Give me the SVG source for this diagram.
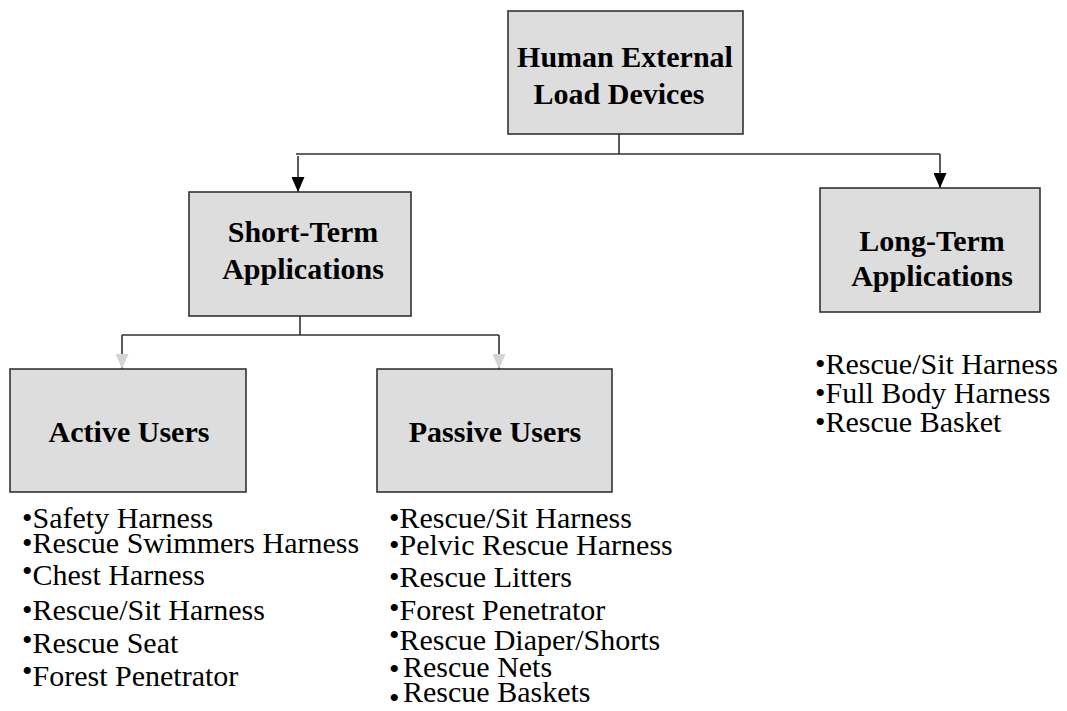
<svg xmlns="http://www.w3.org/2000/svg" width="1067" height="711" viewBox="0 0 1067 711">
<style>
.box{fill:#dddddd;stroke:#333333;stroke-width:1.6}
.t{font-family:"Liberation Serif","Times New Roman",serif;font-size:30px;font-weight:bold;fill:#000;text-anchor:middle}
.l{font-family:"Liberation Serif","Times New Roman",serif;font-size:30px;fill:#000}
.c{fill:none;stroke:#333333;stroke-width:1.6}
</style>
<defs>
<marker id="ab" markerWidth="13" markerHeight="15" refX="6.5" refY="15" orient="0" markerUnits="userSpaceOnUse" viewBox="0 0 13 15"><path d="M0,0 L13,0 L6.5,15 Z" fill="#000"/></marker>
<marker id="ag" markerWidth="13" markerHeight="15" refX="6.5" refY="15" orient="0" markerUnits="userSpaceOnUse" viewBox="0 0 13 15"><path d="M0,0 L13,0 L6.5,15 Z" fill="#d4d4d4"/></marker>
</defs>
<g id="connectors">
<path class="c" d="M619,134 V154 M296,154 H940"/>
<path class="c" d="M298,156 V192" marker-end="url(#ab)"/>
<path class="c" d="M940,154 V188" marker-end="url(#ab)"/>
<path class="c" d="M300,316 V335 M122,335 H499"/>
<path class="c" d="M122,335 V369" marker-end="url(#ag)"/>
<path class="c" d="M499,335 V369" marker-end="url(#ag)"/>
</g>
<g id="root">
<rect class="box" x="508" y="11" width="235" height="123"/>
<text class="t"><tspan x="625" y="67">Human External</tspan><tspan x="619" y="104">Load Devices</tspan></text>
</g>
<g id="short-term">
<rect class="box" x="189" y="192" width="222" height="124"/>
<text class="t"><tspan x="303" y="242">Short-Term</tspan><tspan x="303" y="279">Applications</tspan></text>
</g>
<g id="long-term">
<rect class="box" x="820" y="188" width="220" height="124"/>
<text class="t"><tspan x="932" y="251">Long-Term</tspan><tspan x="932" y="286">Applications</tspan></text>
</g>
<g id="active">
<rect class="box" x="10" y="369" width="236" height="123"/>
<text class="t" x="129" y="442">Active Users</text>
</g>
<g id="passive">
<rect class="box" x="377" y="369" width="235" height="123"/>
<text class="t" x="495" y="442">Passive Users</text>
</g>
<g id="active-list" class="l">
<text x="22" y="528">•Safety Harness</text>
<text x="22" y="553">•Rescue Swimmers Harness</text>
<text x="22" y="585"><tspan dy="-4">•</tspan><tspan dy="4">Chest Harness</tspan></text>
<text x="22" y="620">•Rescue/Sit Harness</text>
<text x="22" y="653"><tspan dy="-3">•</tspan><tspan dy="3">Rescue Seat</tspan></text>
<text x="22" y="686"><tspan dy="-5">•</tspan><tspan dy="5">Forest Penetrator</tspan></text>
</g>
<g id="passive-list" class="l">
<text x="389" y="528">•Rescue/Sit Harness</text>
<text x="389" y="555">•Pelvic Rescue Harness</text>
<text x="389" y="587">•Rescue Litters</text>
<text x="389" y="620"><tspan dy="-2">•</tspan><tspan dy="2">Forest Penetrator</tspan></text>
<text x="389" y="650"><tspan dy="-5">•</tspan><tspan dy="5">Rescue Diaper/Shorts</tspan></text>
<text x="389" y="677"><tspan dy="2">•</tspan><tspan dy="-2" x="403">Rescue Nets</tspan></text>
<text x="389" y="702"><tspan dy="6">•</tspan><tspan dy="-6" x="403">Rescue Baskets</tspan></text>
</g>
<g id="long-list" class="l">
<text x="815" y="374">•Rescue/Sit Harness</text>
<text x="815" y="403">•Full Body Harness</text>
<text x="815" y="432">•Rescue Basket</text>
</g>
</svg>
